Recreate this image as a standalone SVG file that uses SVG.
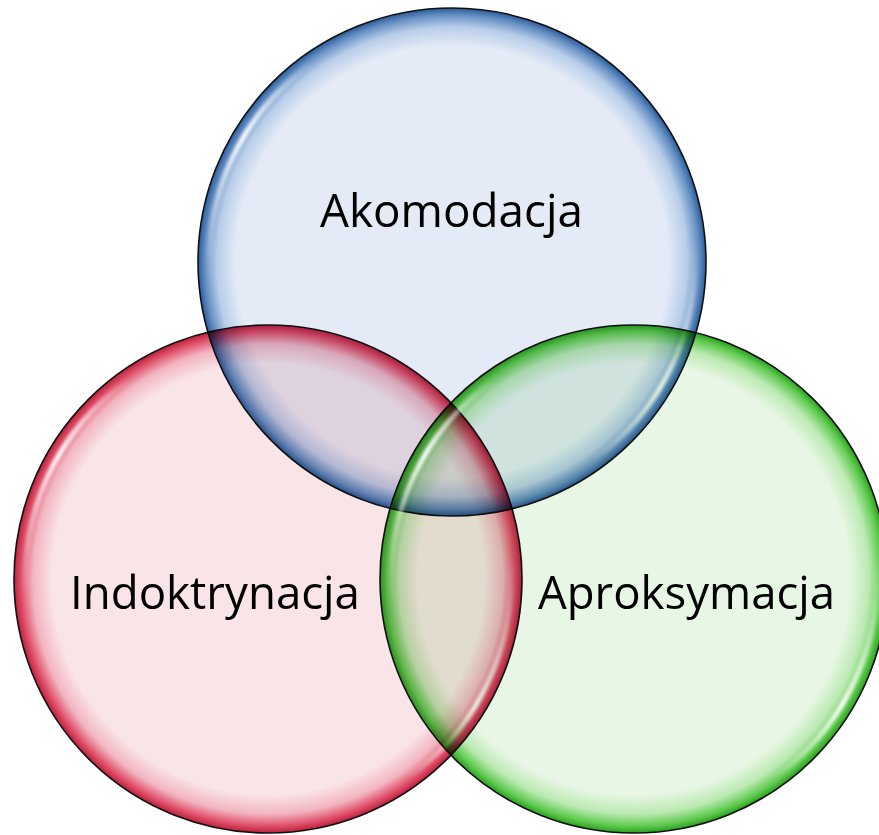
<svg xmlns="http://www.w3.org/2000/svg" width="879" height="835" viewBox="0 0 879 835">
<style>
.bubble{mix-blend-mode:multiply;stroke:#111;stroke-width:1.6}
.glint{fill:none;stroke:url(#glintGrad);stroke-width:5;stroke-linecap:round;filter:url(#soft)}
.label{font-family:"Open Sans","Liberation Sans",sans-serif;font-size:45px;fill:#000;text-anchor:middle}
</style>
<defs>
<radialGradient id="gBlue" cx="50%" cy="50%" r="50%">
<stop offset="0" stop-color="#E4EBF6"/>
<stop offset="0.85" stop-color="#E4EBF6"/>
<stop offset="0.925" stop-color="#B8CDE9"/>
<stop offset="0.972" stop-color="#6690C4"/>
<stop offset="1" stop-color="#2A5C9A"/>
</radialGradient>
<radialGradient id="gRed" cx="50%" cy="50%" r="50%">
<stop offset="0" stop-color="#F9E4E7"/>
<stop offset="0.85" stop-color="#F9E4E7"/>
<stop offset="0.925" stop-color="#F2B5C0"/>
<stop offset="0.972" stop-color="#E0506A"/>
<stop offset="1" stop-color="#BC203C"/>
</radialGradient>
<radialGradient id="gGreen" cx="50%" cy="50%" r="50%">
<stop offset="0" stop-color="#E8F6E5"/>
<stop offset="0.85" stop-color="#E8F6E5"/>
<stop offset="0.925" stop-color="#BBE9B2"/>
<stop offset="0.972" stop-color="#62CC52"/>
<stop offset="1" stop-color="#2AA01E"/>
</radialGradient>
<linearGradient id="glintGrad" x1="0" y1="1" x2="1" y2="0">
<stop offset="0" stop-color="#fff" stop-opacity="0"/>
<stop offset="0.5" stop-color="#fff" stop-opacity="0.95"/>
<stop offset="1" stop-color="#fff" stop-opacity="0"/>
</linearGradient>
<filter id="soft" x="-20%" y="-20%" width="140%" height="140%">
<feGaussianBlur stdDeviation="1.6"/>
</filter>
</defs>
<g id="akomodacja">
<circle class="bubble" cx="452" cy="262" r="254" fill="url(#gBlue)"/>
<path class="glint" d="M209.9 283.2 A243 243 0 0 1 312.6 62.9"/>
<path class="glint" d="M694.1 240.8 A243 243 0 0 1 591.4 461.1"/>
<text class="label" x="451.5" y="227" textLength="263" lengthAdjust="spacingAndGlyphs">Akomodacja</text>
</g>
<g id="indoktrynacja">
<circle class="bubble" cx="268" cy="579" r="254" fill="url(#gRed)"/>
<path class="glint" d="M25.9 600.2 A243 243 0 0 1 128.6 379.9"/>
<path class="glint" d="M510.1 557.8 A243 243 0 0 1 407.4 778.1"/>
<text class="label" x="215" y="609" textLength="290" lengthAdjust="spacingAndGlyphs">Indoktrynacja</text>
</g>
<g id="aproksymacja">
<circle class="bubble" cx="634" cy="579" r="254" fill="url(#gGreen)"/>
<path class="glint" d="M391.9 600.2 A243 243 0 0 1 494.6 379.9"/>
<path class="glint" d="M876.1 557.8 A243 243 0 0 1 773.4 778.1"/>
<text class="label" x="686.5" y="609" textLength="297" lengthAdjust="spacingAndGlyphs">Aproksymacja</text>
</g>
</svg>
